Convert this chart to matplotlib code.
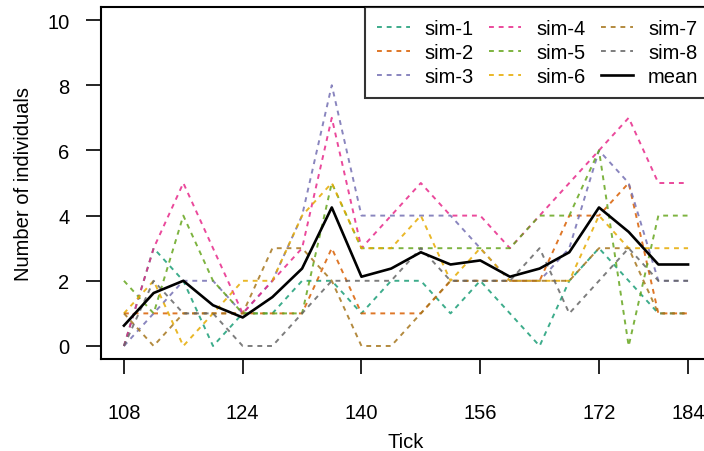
import matplotlib
matplotlib.use("Agg")
import matplotlib.pyplot as plt

plt.rcParams['font.family'] = ['Liberation Sans', 'DejaVu Sans']

# ticks sampled every 4
ticks = [108, 112, 116, 120, 124, 128, 132, 136, 140, 144,
         148, 152, 156, 160, 164, 168, 172, 176, 180, 184]

sim_1 = [0, 3, 2, 0, 1, 1, 2, 2, 1, 2, 2, 1, 2, 1, 0, 2, 3, 2, 1, 1]
sim_2 = [1, 1, 1, 1, 1, 1, 1, 3, 1, 1, 1, 2, 2, 2, 2, 4, 4, 5, 1, 1]
sim_3 = [0, 1, 2, 2, 1, 2, 4, 8, 4, 4, 4, 4, 3, 2, 2, 3, 6, 5, 2, 2]
sim_4 = [0, 3, 5, 3, 1, 2, 3, 7, 3, 4, 5, 4, 4, 3, 4, 5, 6, 7, 5, 5]
sim_5 = [2, 1, 4, 2, 1, 1, 1, 5, 3, 3, 3, 3, 3, 3, 4, 4, 6, 0, 4, 4]
sim_6 = [1, 2, 0, 1, 2, 2, 4, 5, 3, 3, 4, 2, 3, 2, 2, 2, 4, 3, 3, 3]
sim_7 = [1, 0, 1, 1, 1, 3, 3, 2, 0, 0, 1, 2, 2, 2, 2, 2, 3, 3, 1, 1]
sim_8 = [0, 2, 1, 1, 0, 0, 1, 2, 2, 2, 3, 2, 2, 2, 3, 1, 2, 3, 2, 2]
mean_vals = [0.625, 1.625, 2.0, 1.25, 0.875, 1.5, 2.375, 4.25, 2.125, 2.375,
             2.875, 2.5, 2.625, 2.125, 2.375, 2.875, 4.25, 3.5, 2.5, 2.5]

sims = [sim_1, sim_2, sim_3, sim_4, sim_5, sim_6, sim_7, sim_8]
labels = ['sim-1', 'sim-2', 'sim-3', 'sim-4', 'sim-5', 'sim-6', 'sim-7', 'sim-8']
# Dark2 palette
colors = ['#1B9E77', '#D95F02', '#7570B3', '#E7298A',
          '#66A61E', '#E6AB02', '#A6761D', '#666666']

x_ticks = [108, 124, 140, 156, 172, 184]
y_ticks = [0, 2, 4, 6, 8, 10]

fig = plt.figure(figsize=(7.04, 4.52), dpi=100)
ax = fig.add_axes([0.144, 0.2035, 0.8654, 0.7788])

for vals, lab, col in zip(sims, labels, colors):
    ax.plot(ticks, vals, color=col, linewidth=1.4, linestyle=(0, (2.5, 2.5)),
            alpha=0.85, label=lab)
ax.plot(ticks, mean_vals, color='black', linewidth=1.9, label='mean')

ax.set_xlim(104.96, 187.04)
ax.set_ylim(-0.4, 10.4)
ax.set_xticks(x_ticks)
ax.set_yticks(y_ticks)
ax.tick_params(axis='both', direction='out', length=11, width=1.2,
               labelsize=14.5)
ax.tick_params(axis='x', pad=21)
ax.tick_params(axis='y', pad=12)
for sp in ax.spines.values():
    sp.set_linewidth(1.5)

ax.set_xlabel('Tick', fontsize=14.5, labelpad=7)
ax.set_ylabel('Number of individuals', fontsize=14.5, labelpad=10)

leg = ax.legend(loc='upper right', ncol=3, fontsize=14.5, frameon=True,
                fancybox=False, edgecolor='black', borderaxespad=0,
                handlelength=1.6, handletextpad=0.75, columnspacing=0.75,
                labelspacing=0.25, borderpad=0.6)
leg.get_frame().set_linewidth(1.5)

fig.savefig('out.png', dpi=100)
